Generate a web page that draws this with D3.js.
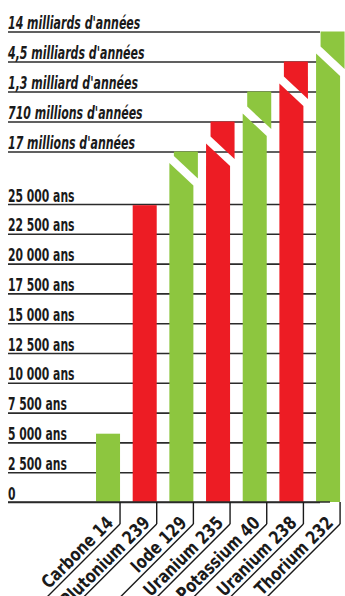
<!DOCTYPE html>
<html>
<head>
<meta charset="utf-8">
<script src="https://cdn.jsdelivr.net/npm/d3@7"></script>
<style>
  body { margin: 0; background: #fff; }
  text { font-family: "DejaVu Sans", sans-serif; fill: #1a1a1a; }
</style>
</head>
<body>
<div id="container"></div>
<script>
// données
let elements = ["Carbone 14", "Plutonium 239", "Iode 129", "Uranium 235", "Potassium 40", "Uranium 238", "Thorium 232"];
let demiVieAns = [5730, 24900, null, null, null, null, null];
let demiVieLongue = [null, null, "17 millions d'années", "710 millions d'années", "1,3 milliard d'années", "4,5 milliards d'années", "14 milliards d'années"];
let ticksAns = [0, 2500, 5000, 7500, 10000, 12500, 15000, 17500, 20000, 22500, 25000];
let ticksAnsLabels = ["0", "2 500 ans", "5 000 ans", "7 500 ans", "10 000 ans", "12 500 ans", "15 000 ans", "17 500 ans", "20 000 ans", "22 500 ans", "25 000 ans"];
let echelleLongue = ["17 millions d'années", "710 millions d'années", "1,3 milliard d'années", "4,5 milliards d'années", "14 milliards d'années"];
let couleurs = ["#8dc63f", "#ed1c24"];

let w = 345;
let h = 596;
let base = 502;
let left = 8;

let viz = d3.select("#container")
  .append("svg")
  .attr("width", w)
  .attr("height", h);

let yScale = d3.scaleLinear().domain([0, 25000]).range([base, 204]);
let yLong = d3.scalePoint().domain(echelleLongue).range([151.5, 31.5]);
let xScale = d3.scaleBand().domain(elements).range([89.6, 346.5]).paddingInner(0.345).paddingOuter(0.175);
let bw = xScale.bandwidth();

// police étroite : on serre le texte horizontalement
function squeeze(sel, k) {
  sel.each(function () {
    let len = this.getComputedTextLength();
    d3.select(this).attr("textLength", len * k).attr("lengthAdjust", "spacingAndGlyphs");
  });
}

// grilles + étiquettes
function styleAxis(g, italic) {
  g.select(".domain").remove();
  g.selectAll(".tick line").attr("stroke", "#2b2b2b").attr("stroke-width", 1.6);
  g.selectAll(".tick text")
    .attr("x", 0)
    .attr("dy", -3)
    .attr("text-anchor", "start")
    .style("font-size", "18px")
    .style("font-weight", "bold")
    .style("font-style", italic ? "italic" : "normal")
    .attr("fill", "#1a1a1a")
    .call(squeeze, italic ? 0.61 : 0.6);
}

let yAxis = d3.axisLeft(yScale)
  .tickValues(ticksAns)
  .tickSize(-312)
  .tickFormat(function (d, i) { return ticksAnsLabels[i]; });
viz.append("g")
  .attr("class", "yaxis")
  .attr("transform", "translate(" + left + ",0)")
  .call(yAxis)
  .call(function (g) { styleAxis(g, false); });

let yLongAxis = d3.axisLeft(yLong).tickSize(-312);
viz.append("g")
  .attr("class", "ylong")
  .attr("transform", "translate(" + left + ",0)")
  .call(yLongAxis)
  .call(function (g) { styleAxis(g, true); });

// barres
let data = elements.map(function (e, i) {
  return { nom: e, ans: demiVieAns[i], longue: demiVieLongue[i], couleur: couleurs[i % 2] };
});

let bars = viz.append("g").attr("class", "bars");
let shift = 4.5;
let slope = 0.94;

data.forEach(function (d) {
  let x0 = xScale(d.nom);
  if (d.ans != null) {
    bars.append("rect")
      .attr("x", x0)
      .attr("y", yScale(d.ans))
      .attr("width", bw)
      .attr("height", base - yScale(d.ans))
      .attr("fill", d.couleur);
  } else {
    let top = yLong(d.longue);
    let brk = Math.min(163, top + 22);
    bars.append("path")
      .attr("d", "M" + x0 + "," + base + "L" + (x0 + bw) + "," + base +
        "L" + (x0 + bw) + "," + (brk + bw * slope) + "L" + x0 + "," + brk + "Z")
      .attr("fill", d.couleur);
    let xu = x0 + shift;
    bars.append("path")
      .attr("d", "M" + xu + "," + top + "L" + (xu + bw) + "," + top +
        "L" + (xu + bw) + "," + (brk - 7 + bw * slope) + "L" + xu + "," + (brk - 7) + "Z")
      .attr("fill", d.couleur);
  }
});

// ligne de base
viz.append("line")
  .attr("x1", left).attr("x2", 330)
  .attr("y1", yScale(0)).attr("y2", yScale(0))
  .attr("stroke", "#2b2b2b").attr("stroke-width", 1.6);

// axe des éléments
let xGroups = viz.append("g").attr("class", "xaxis")
  .selectAll(".xlabel").data(elements).enter()
  .append("g")
  .attr("class", "xlabel")
  .attr("transform", function (d) { return "translate(" + (xScale(d) + bw) + "," + base + ")"; });

xGroups.append("line")
  .attr("x1", 0).attr("x2", 0).attr("y1", 0).attr("y2", 22)
  .attr("stroke", "#1a1a1a").attr("stroke-width", 1.4);

let diag = xGroups.append("g").attr("transform", "translate(0,22) rotate(-45)");
diag.append("line")
  .attr("x1", 0).attr("x2", -200).attr("y1", 0).attr("y2", 0)
  .attr("stroke", "#1a1a1a").attr("stroke-width", 1.4);
diag.append("text")
  .attr("x", -4).attr("y", -4)
  .attr("text-anchor", "end")
  .style("font-size", "18px")
  .style("font-weight", "bold")
  .text(function (d) { return d; })
  .call(squeeze, 0.8);
</script>
</body>
</html>
